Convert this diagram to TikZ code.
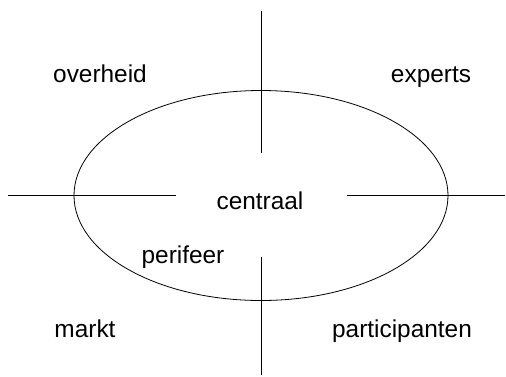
\documentclass[tikz,border=0pt]{standalone}
\usepackage{fontspec}
\setmainfont{Liberation Sans}
\usetikzlibrary{positioning}
\begin{document}
\begin{tikzpicture}[x=1bp,y=-1bp,line width=0.8bp,
  lbl/.style={anchor=base,inner sep=0pt,font=\fontsize{24.5}{28}\selectfont}]
\useasboundingbox (0,0) rectangle (506,376);
% ellipse and axes
\coordinate (mid) at (261,195.5);
\draw (mid) ellipse [x radius=187, y radius=105];
\coordinate (top) at (261,11);   \coordinate (topin) at (261,153);
\coordinate (bot) at (261,375);  \coordinate (botin) at (261,257);
\coordinate (lft) at (8,195);    \coordinate (lftin) at (176,195);
\coordinate (rgt) at (505,195);  \coordinate (rgtin) at (347,195);
\draw (top) -- (topin);
\draw (botin) -- (bot);
\draw (lft) -- (lftin);
\draw (rgtin) -- (rgt);
% labels
\node[lbl] (centraal) at (260,209) {centraal};
\node[lbl] (perifeer) at (183,263) {perifeer};
\node[lbl] (overheid) at (100,82) {overheid};
\node[lbl] (experts) at (431,82) {experts};
\node[lbl] (markt) at (85,337) {markt};
\node[lbl] (particip) at (402,337) {participanten};
\end{tikzpicture}
\end{document}
